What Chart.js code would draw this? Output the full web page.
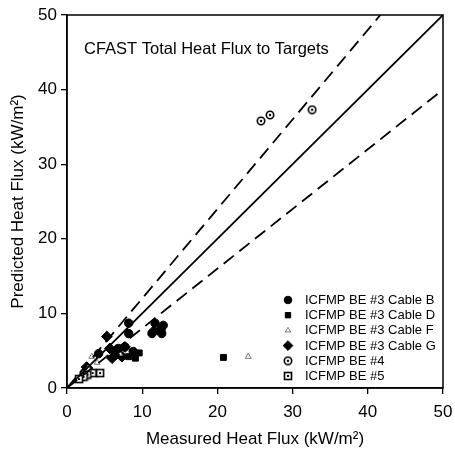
<!DOCTYPE html>
<html lang="en">
<head>
<meta charset="UTF-8" />
<title>CFAST Total Heat Flux to Targets</title>
<script src="https://cdn.jsdelivr.net/npm/chart.js"></script>
<style>
  body { margin: 0; background: #fff; }
</style>
</head>
<body>
<canvas id="chart" width="455" height="454"></canvas>
<script>
  // measured (x) / predicted (y) heat flux, kW/m2
  const cableBMeasured = [8.2, 8.2, 11.7, 12.8, 11.3, 12.6, 6.8, 7.7, 8.8, 4.2, 6.4];
  const cableBPredicted = [8.7, 7.3, 8.7, 8.4, 7.3, 7.3, 5.3, 5.5, 4.9, 4.6, 4.4];
  const cableDMeasured = [20.8, 9.1, 8.2, 9.6, 12.0];
  const cableDPredicted = [4.1, 4.0, 4.2, 4.7, 7.6];
  const cableFMeasured = [24.1, 3.3, 2.8, 4.0, 7.0];
  const cableFPredicted = [4.2, 4.2, 2.6, 3.4, 4.6];
  const cableGMeasured = [5.3, 5.7, 7.3, 7.7, 6.6, 11.5, 12.4, 2.6, 6.0];
  const cableGPredicted = [6.9, 5.3, 4.2, 5.5, 4.8, 7.6, 7.8, 2.8, 4.0];
  const be4Measured = [25.8, 27.0, 32.6];
  const be4Predicted = [35.8, 36.6, 37.3];
  const be5Measured = [3.4, 4.4, 2.7, 2.2, 1.6];
  const be5Predicted = [2.0, 2.0, 1.8, 1.5, 1.2];

  // reference lines: perfect agreement and +/- bounds
  const equalX = [0, 50];
  const equalY = [0, 50];
  const upperX = [0, 41.67];
  const upperY = [0, 50];
  const lowerX = [0, 50];
  const lowerY = [0, 40];

  const axisTicks = [0, 10, 20, 30, 40, 50];
  const FONT = "'Liberation Sans', Arial, sans-serif";

  const pairs = (xs, ys) => xs.map((x, i) => ({ x: x, y: ys[i] }));

  // little marker images for the open symbols
  function markerImage(kind) {
    const c = document.createElement("canvas");
    c.width = 10; c.height = 10;
    const g = c.getContext("2d");
    g.strokeStyle = "#000";
    g.fillStyle = "#fff";
    g.lineWidth = 1.6;
    if (kind === "circle") {
      g.beginPath(); g.arc(5, 5, 3.7, 0, Math.PI * 2); g.fill(); g.stroke();
      g.fillStyle = "#000";
      g.beginPath(); g.arc(5, 5, 1.2, 0, Math.PI * 2); g.fill();
    } else {
      g.fillRect(1, 1, 8, 8); g.strokeRect(1.5, 1.5, 7, 7);
      g.fillStyle = "#000";
      g.fillRect(4, 4, 2, 2);
    }
    return c;
  }

  const scatterSets = [
    { label: "ICFMP BE #3 Cable B", data: pairs(cableBMeasured, cableBPredicted), pointStyle: "circle", pointRadius: 4.2, backgroundColor: "#000", borderColor: "#000", borderWidth: 1 },
    { label: "ICFMP BE #3 Cable D", data: pairs(cableDMeasured, cableDPredicted), pointStyle: "rect", pointRadius: 4.2, backgroundColor: "#000", borderColor: "#000", borderWidth: 1 },
    { label: "ICFMP BE #3 Cable F", data: pairs(cableFMeasured, cableFPredicted), pointStyle: "triangle", pointRadius: 3.4, backgroundColor: "#fff", borderColor: "#777", borderWidth: 1 },
    { label: "ICFMP BE #3 Cable G", data: pairs(cableGMeasured, cableGPredicted), pointStyle: "rectRot", pointRadius: 5.4, backgroundColor: "#000", borderColor: "#000", borderWidth: 1 },
    { label: "ICFMP BE #4", data: pairs(be4Measured, be4Predicted), pointStyle: markerImage("circle"), pointRadius: 4, backgroundColor: "#fff", borderColor: "#000", borderWidth: 1 },
    { label: "ICFMP BE #5", data: pairs(be5Measured, be5Predicted), pointStyle: markerImage("square"), pointRadius: 4, backgroundColor: "#fff", borderColor: "#000", borderWidth: 1 },
  ];

  const lineSets = [
    { label: "equal", data: pairs(equalX, equalY), borderDash: [] },
    { label: "upper", data: pairs(upperX, upperY), borderDash: [13, 7] },
    { label: "lower", data: pairs(lowerX, lowerY), borderDash: [13, 7] },
  ].map((d) => ({
    type: "line",
    label: d.label,
    data: d.data,
    borderDash: d.borderDash,
    borderColor: "#000",
    borderWidth: 1.8,
    pointRadius: 0,
    fill: false,
    showLine: true,
  }));

  const frameAndText = {
    id: "frameAndText",
    afterDraw(chart) {
      const { ctx, chartArea: a } = chart;
      ctx.save();
      ctx.strokeStyle = "#000";
      ctx.lineWidth = 1.5;
      ctx.strokeRect(a.left, a.top, a.right - a.left, a.bottom - a.top);

      ctx.fillStyle = "#000";
      ctx.font = "16.5px " + FONT;
      ctx.textBaseline = "middle";
      ctx.fillText("CFAST Total Heat Flux to Targets", 84, 49);

      // legend
      ctx.font = "13px " + FONT;
      scatterSets.forEach((ds, i) => {
        const y = 300 + i * 15.2;
        ctx.fillStyle = ds.backgroundColor;
        ctx.strokeStyle = ds.borderColor;
        ctx.lineWidth = ds.borderWidth;
        Chart.helpers.drawPoint(ctx, {
          pointStyle: ds.pointStyle,
          radius: ds.pointRadius * 0.9,
          rotation: 0,
          borderWidth: ds.borderWidth,
        }, 288, y);
        ctx.fillStyle = "#000";
        ctx.fillText(ds.label, 305, y + 0.5);
      });
      ctx.restore();
    },
  };

  const axisBase = {
    type: "linear",
    min: 0,
    max: 50,
    border: { display: true, color: "#000", width: 1.5 },
    grid: { display: true, drawOnChartArea: false, drawTicks: true, tickLength: 6, color: "#000", lineWidth: 1.3 },
    afterBuildTicks: (scale) => { scale.ticks = axisTicks.map((v) => ({ value: v })); },
  };

  new Chart(document.getElementById("chart"), {
    type: "scatter",
    data: { datasets: [...lineSets, ...scatterSets] },
    plugins: [frameAndText],
    options: {
      responsive: false,
      animation: false,
      layout: { padding: { top: 15, right: 2, left: 3, bottom: 1 } },
      plugins: { legend: { display: false }, tooltip: { enabled: false } },
      scales: {
        x: {
          ...axisBase,
          ticks: { color: "#000", font: { family: FONT, size: 17 }, padding: 8, maxRotation: 0 },
          title: { display: true, text: "Measured Heat Flux (kW/m²)", color: "#000", font: { family: FONT, size: 17 }, padding: { top: 4, bottom: 3 } },
          afterFit: (scale) => { scale.height = 65; scale.paddingRight = 12; },
        },
        y: {
          ...axisBase,
          ticks: { color: "#000", font: { family: FONT, size: 17 }, padding: 4 },
          title: { display: true, text: "Predicted Heat Flux (kW/m²)", color: "#000", font: { family: FONT, size: 17 }, padding: { top: 5, bottom: 3 } },
          afterFit: (scale) => { scale.width = 64; },
        },
      },
    },
  });
</script>
</body>
</html>
